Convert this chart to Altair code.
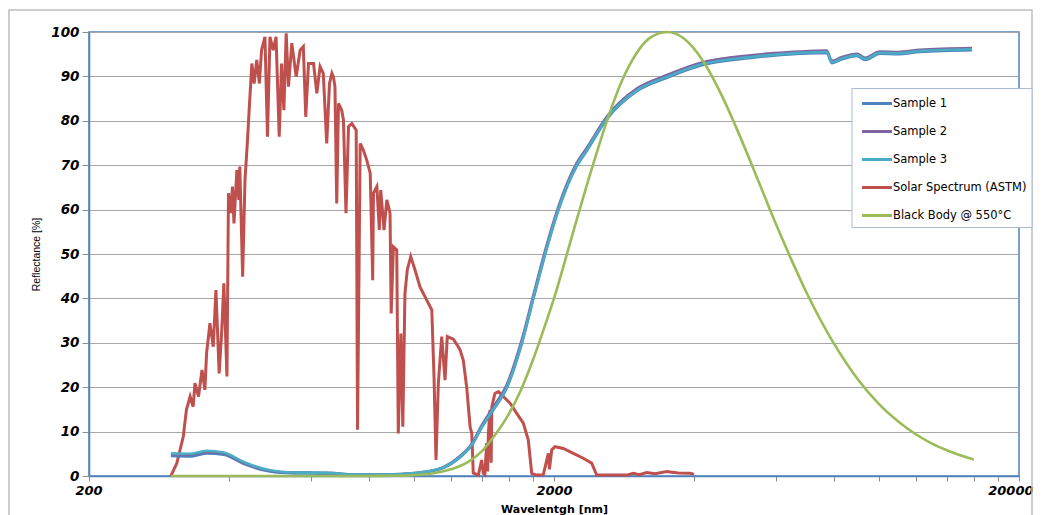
import altair as alt
import pandas as pd

# ---------------- data ----------------
series_names = ["Sample 1", "Sample 2", "Sample 3", "Solar Spectrum (ASTM)", "Black Body @ 550°C"]
series_colors = ["#4F81BD", "#8064A2", "#4BACC6", "#C0504D", "#9BBB59"]

sample_nm = [300, 330, 358, 390, 429, 490, 550, 649, 766, 903, 1030, 1156, 1256, 1339, 1387,
             1480, 1583, 1705, 1805, 1913, 2043, 2238, 2352, 2601, 3018, 3500, 4121, 5358, 6763,
             7718, 7920, 8300, 8970, 9330, 10050, 11000, 12250, 15850]
sample1_val = [4.5, 4.4, 5.1, 4.8, 2.8, 1.0, 0.6, 0.5, 0.2, 0.3, 0.7, 1.8, 4.2, 7.3, 10.3,
               14.8, 19.8, 29.8, 39.8, 49.8, 59.8, 69.8, 73.2, 80.4, 86.7, 89.7, 92.4, 94.2, 95.1,
               95.3, 93.0, 93.8, 94.6, 93.7, 95.1, 95.0, 95.5, 95.9]
sample2_val = [4.9, 4.8, 5.4, 5.1, 3.0, 1.2, 0.8, 0.7, 0.3, 0.4, 0.8, 2.0, 4.5, 7.7, 10.8,
               15.5, 20.6, 30.7, 40.7, 50.7, 60.6, 70.5, 73.9, 81.0, 87.3, 90.3, 93.0, 94.8, 95.6,
               95.8, 93.5, 94.3, 95.1, 94.2, 95.6, 95.5, 96.0, 96.4]
sample3_val = [5.1, 5.0, 5.7, 5.3, 3.2, 1.3, 0.8, 0.7, 0.3, 0.4, 0.8, 1.9, 4.3, 7.4, 10.4,
               15.0, 20.0, 30.0, 40.0, 50.0, 60.0, 70.0, 73.4, 80.6, 86.9, 89.9, 92.6, 94.4, 95.3,
               95.5, 93.2, 94.0, 94.8, 93.9, 95.3, 95.2, 95.7, 96.1]

solar_nm = [300, 309, 319, 324, 330, 335, 338, 344, 350, 355, 358, 364, 370, 375, 381, 386,
            390, 396, 399, 403, 407, 410, 416, 420, 422, 428, 433, 438, 442, 448, 453, 459,
            465, 470, 478, 484, 490, 498, 505, 513, 519, 525, 531, 537, 546, 558, 569, 578,
            585, 593, 608, 618, 628, 638, 649, 658, 666, 671, 676, 682, 688, 699, 705, 714,
            723, 735, 751, 756, 766, 778, 791, 805, 815, 818, 832, 842, 848, 862, 874, 888,
            893, 903, 918, 925, 937, 946, 956, 967, 984, 1005, 1030, 1065, 1092, 1104, 1115,
            1128, 1147, 1166, 1179, 1215, 1245, 1256, 1276, 1298, 1320, 1331, 1341, 1375,
            1398, 1409, 1420, 1433, 1440, 1445, 1457, 1465, 1470, 1481, 1493, 1518, 1556,
            1609, 1663, 1718, 1761, 1791, 1830, 1897, 1945, 1955, 1978, 2010, 2094, 2201,
            2312, 2410, 2471, 2867, 2962, 3050, 3165, 3300, 3495, 3700, 3922, 4000]
solar_val = [0.0, 2.9, 8.9, 14.9, 17.9, 15.6, 20.9, 17.9, 23.9, 19.4, 27.6, 34.4, 29.1, 41.9,
             23.1, 32.9, 43.4, 22.4, 63.7, 59.2, 65.2, 56.9, 68.9, 62.2, 69.7, 44.9, 66.7,
             74.9, 82.4, 92.9, 88.4, 93.7, 88.4, 95.9, 98.9, 76.4, 98.9, 95.9, 98.9, 76.4,
             92.9, 82.4, 99.7, 87.7, 97.5, 89.9, 95.9, 96.7, 80.9, 92.9, 92.9, 86.2, 92.2,
             90.7, 74.9, 88.4, 90.7, 89.9, 87.7, 61.4, 83.9, 82.4, 80.2, 59.2, 78.7, 79.4,
             77.9, 10.4, 74.9, 73.4, 71.2, 68.2, 44.1, 63.7, 65.2, 55.4, 64.4, 55.4, 62.2,
             59.2, 36.6, 51.6, 50.9, 9.6, 32.1, 11.1, 41.1, 46.4, 49.4, 46.4, 42.6, 39.6,
             37.4, 22.4, 3.6, 20.9, 31.4, 21.6, 31.4, 30.8, 29.1, 28.4, 26.1, 20.0, 11.1,
             9.6, 0.7, 0.2, 3.6, 0.6, 0.3, 7.4, 1.0, 9.6, 14.9, 3.0, 15.5, 17.1, 18.6, 19.0,
             17.9, 16.4, 14.1, 11.9, 8.1, 0.6, 0.2, 0.3, 5.1, 1.5, 5.9, 6.6, 6.2, 5.1, 4.0,
             2.9, 0.2, 0.2, 0.6, 0.3, 0.8, 0.5, 1.0, 0.7, 0.6, 0.4]

blackbody_nm = [300, 500, 700, 800, 900, 1000, 1100, 1200, 1300, 1400, 1500, 1600, 1700, 1800,
                1900, 2000, 2200, 2400, 2600, 2800, 3000, 3200, 3500, 3800, 4200, 4600, 5000,
                5500, 6000, 6500, 7000, 8000, 9000, 10000, 11000, 12000, 13000, 14000, 15000,
                16000]
blackbody_val = [0.0, 0.0, 0.0, 0.01, 0.05, 0.2, 0.6, 1.5, 3.0, 5.6, 9.5, 14.0, 19.5, 26.0,
                 33.0, 40.0, 55.0, 68.5, 80.0, 89.0, 95.0, 98.5, 100.0, 98.6, 93.2, 85.5, 77.0,
                 66.5, 56.8, 48.4, 41.1, 29.8, 21.8, 16.2, 12.3, 9.4, 7.3, 5.8, 4.6, 3.7]

x_tick_values = [200, 400, 600, 800, 1000, 1200, 1400, 1600, 1800, 2000,
                 4000, 6000, 8000, 10000, 12000, 14000, 16000, 18000, 20000]
x_label_values = [200, 2000, 20000]
y_tick_values = [0, 10, 20, 30, 40, 50, 60, 70, 80, 90, 100]

# ---------------- table ----------------
rows = []
for name, xs, ys in [
    (series_names[0], sample_nm, sample1_val),
    (series_names[1], sample_nm, sample2_val),
    (series_names[2], sample_nm, sample3_val),
    (series_names[3], solar_nm, solar_val),
    (series_names[4], blackbody_nm, blackbody_val),
]:
    for i, (a, b) in enumerate(zip(xs, ys)):
        rows.append({"series": name, "wl": a, "val": b, "idx": i})
df = pd.DataFrame(rows)

FONT = "DejaVu Sans"
BLUE = "#4F81BD"

label_test = " || ".join(f"datum.value == {v}" for v in x_label_values)

x_enc = alt.X(
    "wl:Q",
    title="Wavelentgh [nm]",
    scale=alt.Scale(type="log", domain=[200, 20000], nice=False),
    axis=alt.Axis(
        values=x_tick_values, format="d",
        labelExpr=f"({label_test}) ? datum.label : ''",
        labelFlush=True, labelFlushOffset=14, labelOverlap=False, grid=False,
        tickSize=5, tickColor="#8C8C8C", domainColor=BLUE, domainWidth=1.5,
        labelFont=FONT, labelFontSize=13, labelFontWeight="bold", labelFontStyle="italic",
        labelColor="black", labelPadding=3,
        titleFont=FONT, titleFontSize=11, titleFontWeight="bold", titleColor="black",
        titleY=33, titleBaseline="middle",
    ),
)
y_enc = alt.Y(
    "val:Q",
    title="Reflectance [%]",
    scale=alt.Scale(domain=[0, 100], nice=False),
    axis=alt.Axis(
        values=y_tick_values, grid=True, gridColor="#A6A6A6", gridWidth=1,
        tickSize=7, tickColor="#8C8C8C", domainColor=BLUE, domainWidth=1.5,
        labelFont=FONT, labelFontSize=13.5, labelFontWeight="bold", labelFontStyle="italic",
        labelColor="black", labelPadding=3,
        titleFont="Liberation Sans", titleFontSize=10.5, titleFontWeight="normal",
        titleColor="black", titleX=-53, titleY=222, titleBaseline="middle",
    ),
)
color_enc = alt.Color(
    "series:N",
    scale=alt.Scale(domain=series_names, range=series_colors),
    legend=alt.Legend(
        title=None, orient="none", legendX=762.5, legendY=56,
        fillColor="white", strokeColor="#A9BAD2", padding=5,
        symbolType="M-1.73,0H1.73", symbolSize=300, symbolStrokeWidth=3,
        symbolOffset=10, labelOffset=5.5, rowPadding=11,
        labelFont=FONT, labelFontSize=11.5, labelColor="black", labelLimit=250,
    ),
)

base = alt.Chart(df)


def layer_for(names, width, interp):
    return (
        base.transform_filter(alt.FieldOneOfPredicate(field="series", oneOf=names))
        .mark_line(strokeWidth=width, interpolate=interp)
        .encode(x=x_enc, y=y_enc, color=color_enc, order="idx:Q")
    )


frame = alt.Chart(pd.DataFrame({"k": [0]})).mark_rect(
    filled=False, stroke="#BFBFBF", strokeWidth=1.5
).encode(x=alt.value(-80), x2=alt.value(943), y=alt.value(-22), y2=alt.value(500))

solar = layer_for([series_names[3]], 3, "linear")
s1 = layer_for([series_names[0]], 2.6, "monotone")
s2 = layer_for([series_names[1]], 2.6, "monotone")
s3 = layer_for([series_names[2]], 2.6, "monotone")
bb = layer_for([series_names[4]], 2.6, "monotone")

chart = (
    alt.layer(frame, solar, s1, s2, s3, bb)
    .properties(
        width=930, height=444,
        padding={"left": 81, "top": 24, "right": 14, "bottom": 39},
        autosize=alt.AutoSizeParams(type="none"),
        background="white",
    )
    .configure_view(stroke=BLUE, strokeWidth=1.5)
)

chart.save("out.html", embed_options={"renderer": "svg", "actions": False})
